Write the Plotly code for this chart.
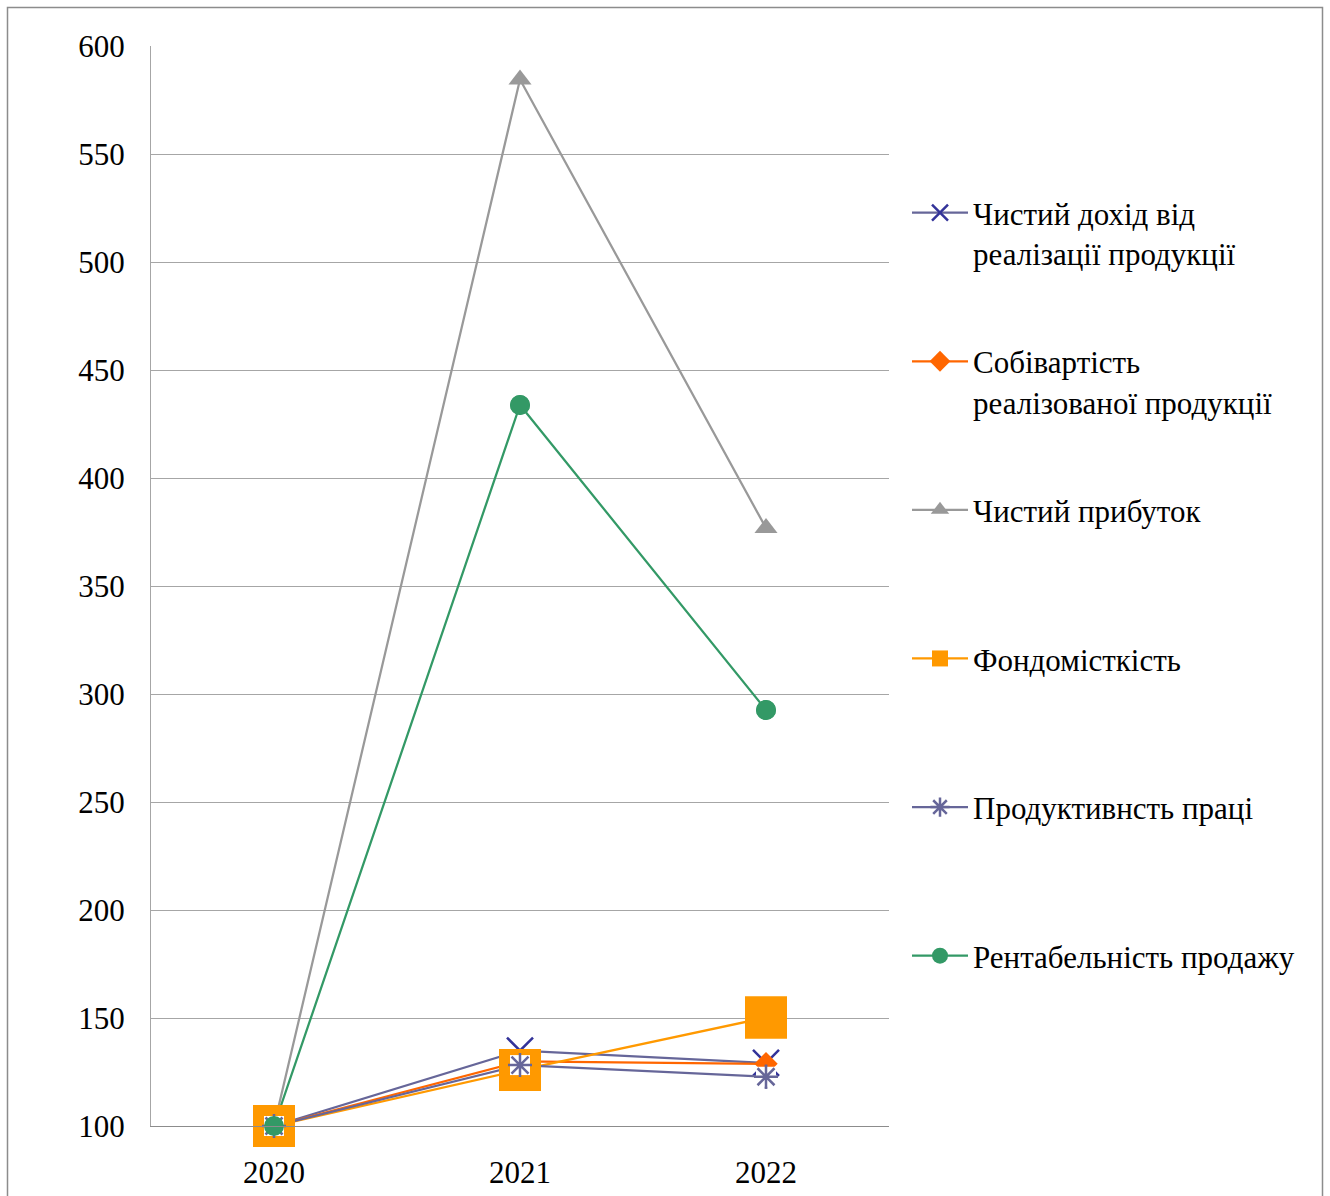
import plotly.graph_objects as go

# Index values (2020 = 100)
years = ["2020", "2021", "2022"]
dokhid = [100, 134.9, 129.2]        # Чистий дохід від реалізації продукції
sobivartist = [100, 129.9, 128.8]   # Собівартість реалізованої продукції
prybutok = [100, 584.5, 376.8]      # Чистий прибуток
fondomistkist = [100, 125.9, 150.2] # Фондомісткість
produktyvnist = [100, 128.2, 122.8] # Продуктивнсть праці
rentabelnist = [100, 433.8, 292.6]  # Рентабельність продажу

names = [
    "Чистий дохід від<br>реалізації продукції",
    "Собівартість<br>реалізованої продукції",
    "Чистий прибуток<br>\u00a0",
    "Фондомісткість<br>\u00a0",
    "Продуктивнсть праці<br>\u00a0",
    "Рентабельність продажу<br>\u00a0",
]

FONT = "Liberation Serif"
FS = 31
W, H = 1330, 1196
L, R, T, B = 151, 889, 46, 1126  # plot area in pixels

fig = go.Figure()

def add(y, name, color, symbol, size, mcolor=None, mline=0, group="g"):
    fig.add_trace(go.Scatter(
        x=years, y=y, name=name, mode="lines+markers", cliponaxis=False,
        line=dict(color=color, width=2.25),
        marker=dict(symbol=symbol, size=size, color=mcolor or color,
                    line=dict(color=mcolor or color, width=mline)),
        legendgroup=group,
    ))

add(dokhid, names[0], "#666699", "x-thin", 26, "#333399", 2.5, "a")
add(sobivartist, names[1], "#ff6600", "diamond", 18, group="b")
add(prybutok, names[2], "#999999", "triangle-up", 20, group="c")
add(fondomistkist, names[3], "#ff9900", "square", 42, group="d")
add(produktyvnist, names[4], "#666699", "asterisk-open", 20, "#666699", 2.5, "e")
add(rentabelnist, names[5], "#339966", "circle", 20, group="f")

# markers drawn again above all lines
def overlay(y, symbol, size, color, lw=0):
    fig.add_trace(go.Scatter(
        x=years, y=y, mode="markers", showlegend=False, hoverinfo="skip",
        cliponaxis=False,
        marker=dict(symbol=symbol, size=size, color=color,
                    line=dict(color=color, width=lw)),
    ))

overlay(fondomistkist, "square", 42, "#ff9900")
overlay(produktyvnist, "square", 20, "#ffffff")
overlay(produktyvnist, "asterisk-open", 20, "#666699", 2.5)
overlay(rentabelnist, "circle", 20, "#339966")

pw, ph = R - L, B - T
def px(x):
    return (x - L) / pw
def py(y):
    return (B - y) / ph

# outer frame
fig.add_shape(type="rect", xref="paper", yref="paper",
              x0=px(7.5), x1=px(1322.5), y0=py(1205), y1=py(7.5),
              line=dict(color="#8c8c8c", width=1.5), fillcolor="rgba(0,0,0,0)")

fig.update_layout(
    width=W, height=H,
    margin=dict(l=L, r=W - R, t=T, b=H - B, autoexpand=False),
    paper_bgcolor="white", plot_bgcolor="white",
    font=dict(family=FONT, size=FS, color="black"),
    showlegend=True,
    legend=dict(
        x=px(907), xanchor="left", y=py(186), yanchor="top",
        tracegroupgap=65, valign="top", itemwidth=56,
        font=dict(family=FONT, size=FS, color="black"),
        bgcolor="rgba(0,0,0,0)",
    ),
    xaxis=dict(
        type="category", range=[-0.5, 2.5], automargin=False,
        showgrid=False, showline=True, linecolor="#8c8c8c", linewidth=1,
        ticks="", ticklabelstandoff=19,
        tickfont=dict(family=FONT, size=FS, color="black"),
    ),
    yaxis=dict(
        range=[100, 600], dtick=50, tick0=100, automargin=False,
        showgrid=True, gridcolor="#a6a6a6", gridwidth=1,
        showline=True, linecolor="#a6a6a6", linewidth=1,
        zeroline=False, ticks="", ticklabelstandoff=19,
        tickfont=dict(family=FONT, size=FS, color="black"),
    ),
)

fig.write_html("out.html")
